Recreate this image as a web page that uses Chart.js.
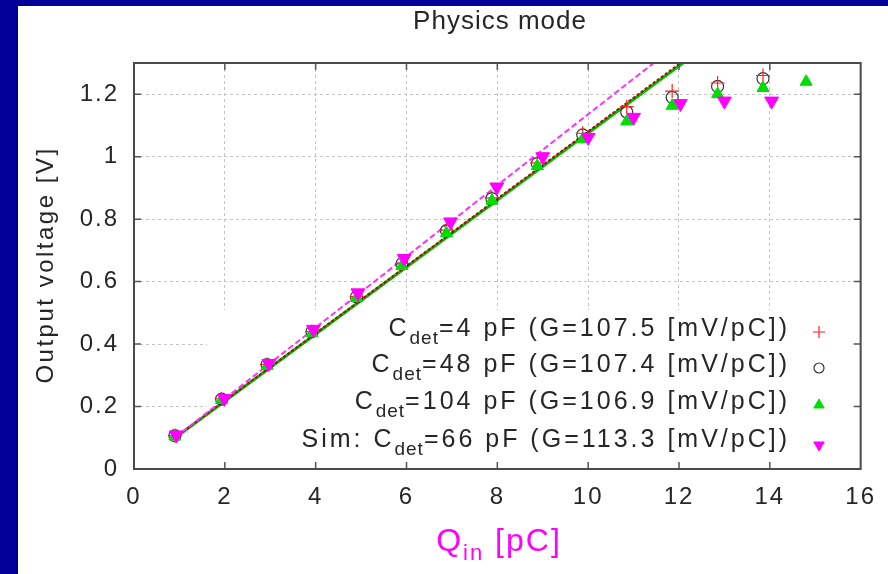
<!DOCTYPE html>
<html>
<head>
<meta charset="utf-8">
<script src="https://cdn.jsdelivr.net/npm/chart.js@4.4.1/dist/chart.umd.min.js"></script>
<style>
    html, body { margin: 0; padding: 0; width: 888px; height: 574px; overflow: hidden; background: #000099; }
    #panel { position: absolute; left: 18px; top: 6px; width: 870px; height: 568px; background: #fff; }
    canvas { display: block; }
</style>
</head>
<body>
<div id="panel"><canvas id="chart" width="870" height="568"></canvas></div>
<script>
(function () {
    'use strict';

    // measured points (Q_in in pC, output in V)
    var qMeas   = [0.9, 1.93, 2.93, 3.92, 4.9, 5.9, 6.88, 7.88, 8.88, 9.88, 10.85, 11.85, 12.85, 13.85, 14.8];
    var vDet4   = [0.107, 0.225, 0.335, 0.44, 0.552, 0.658, 0.765, 0.868, 0.98, 1.075, 1.16, 1.21, 1.236, 1.26];
    var vDet48  = [0.107, 0.224, 0.334, 0.44, 0.551, 0.657, 0.763, 0.866, 0.978, 1.07, 1.143, 1.19, 1.225, 1.25];
    var vDet104 = [0.104, 0.221, 0.33, 0.435, 0.547, 0.65, 0.755, 0.859, 0.97, 1.056, 1.113, 1.163, 1.2, 1.22, 1.24];

    // simulation
    var qSim = [0.93, 1.99, 2.97, 3.95, 4.93, 5.95, 6.97, 7.99, 9.0, 10.0, 11.0, 12.03, 13.0, 14.04];
    var vSim = [0.109, 0.226, 0.338, 0.447, 0.564, 0.674, 0.791, 0.903, 1.0, 1.062, 1.126, 1.17, 1.178, 1.178];

    // fitted gain lines (end points)
    var qFitMeas   = [0.9, 12.2];
    var vFit4      = [0.1, 1.318];
    var vFit48     = [0.1, 1.317];
    var vFit104    = [0.099, 1.312];
    var qFitSim    = [0.9, 11.6];
    var vFitSim    = [0.1, 1.318];

    var xTicks = [0, 2, 4, 6, 8, 10, 12, 14, 16];
    var yTicks = [0, 0.2, 0.4, 0.6, 0.8, 1, 1.2];

    var legendRows = [
        { pre: 'C', post: '=4 pF (G=107.5 [mV/pC])' },
        { pre: 'C', post: '=48 pF (G=107.4 [mV/pC])' },
        { pre: 'C', post: '=104 pF (G=106.9 [mV/pC])' },
        { pre: 'Sim: C', post: '=66 pF (G=113.3 [mV/pC])' }
    ];

    var FONT = '"Liberation Sans", Arial, Helvetica, sans-serif';
    var TEXT = '#262626';

    function pts(xs, ys) {
        var out = [];
        for (var i = 0; i < ys.length; i++) out.push({ x: xs[i], y: ys[i] });
        return out;
    }

    var symbols = [
        { pointStyle: 'cross',    rotation: 0,   radius: 6, borderWidth: 1.2, color: '#ff2020', fill: '#ff2020' },
        { pointStyle: 'circle',   rotation: 0,   radius: 5, borderWidth: 1.2, color: '#333333', fill: 'rgba(0,0,0,0)' },
        { pointStyle: 'triangle', rotation: 0,   radius: 6, borderWidth: 1,   color: '#00dd00', fill: '#00dd00' },
        { pointStyle: 'triangle', rotation: 180, radius: 6, borderWidth: 1,   color: '#ff00ff', fill: '#ff00ff' }
    ];

    function drawParts(ctx, pre, post, xRight, base) {
        ctx.font = '25px ' + FONT;
        ctx.letterSpacing = '3px';
        var w1 = ctx.measureText(pre).width;
        var w3 = ctx.measureText(post).width;
        ctx.font = '19px ' + FONT;
        ctx.letterSpacing = '1px';
        var w2 = ctx.measureText('det').width;
        var x = xRight - (w1 + w2 + w3);
        ctx.textAlign = 'left';
        ctx.textBaseline = 'alphabetic';
        ctx.font = '25px ' + FONT;
        ctx.letterSpacing = '3px';
        ctx.fillText(pre, x, base);
        ctx.font = '19px ' + FONT;
        ctx.letterSpacing = '1px';
        ctx.fillText('det', x + w1, base + 8);
        ctx.font = '25px ' + FONT;
        ctx.letterSpacing = '3px';
        ctx.fillText(post, x + w1 + w2, base);
    }

    var decorPlugin = {
        id: 'decor',
        beforeDraw: function (chart) {
            chart.ctx.letterSpacing = '2px';
        },
        beforeDatasetsDraw: function (chart) {
            var ctx = chart.ctx, a = chart.chartArea;
            ctx.save();
            ctx.fillStyle = '#ffffff';
            ctx.fillRect(189, 304, a.right - 189, a.bottom - 304);
            ctx.restore();
        },
        afterDraw: function (chart) {
            var ctx = chart.ctx, a = chart.chartArea;
            var xs = chart.scales.x, ys = chart.scales.y;
            var i, p;
            ctx.save();

            // inner tick marks (gnuplot style)
            ctx.strokeStyle = '#555';
            ctx.lineWidth = 1.5;
            ctx.beginPath();
            for (i = 1; i < xTicks.length - 1; i++) {
                p = xs.getPixelForValue(xTicks[i]);
                ctx.moveTo(p, a.bottom); ctx.lineTo(p, a.bottom - 7);
                ctx.moveTo(p, a.top); ctx.lineTo(p, a.top + 7);
            }
            for (i = 1; i < yTicks.length; i++) {
                p = ys.getPixelForValue(yTicks[i]);
                ctx.moveTo(a.left, p); ctx.lineTo(a.left + 7, p);
                ctx.moveTo(a.right, p); ctx.lineTo(a.right - 7, p);
            }
            ctx.stroke();

            // frame
            ctx.strokeStyle = '#4a4a4a';
            ctx.lineWidth = 2;
            ctx.strokeRect(a.left, a.top, a.right - a.left, a.bottom - a.top);

            ctx.fillStyle = TEXT;

            // title
            ctx.font = '26px ' + FONT;
            ctx.letterSpacing = '1px';
            ctx.textAlign = 'center';
            ctx.textBaseline = 'alphabetic';
            ctx.fillText('Physics mode', 482, 23);

            // y axis title
            ctx.save();
            ctx.translate(28, 259);
            ctx.rotate(-Math.PI / 2);
            ctx.font = '24px ' + FONT;
            ctx.letterSpacing = '2.5px';
            ctx.textBaseline = 'middle';
            ctx.fillText('Output voltage [V]', 0, 0);
            ctx.restore();

            // x axis title with subscript
            ctx.fillStyle = '#ff00ff';
            ctx.letterSpacing = '2px';
            ctx.font = '32px ' + FONT;
            var wq = ctx.measureText('Q').width;
            var wr = ctx.measureText(' [pC]').width;
            ctx.font = '22px ' + FONT;
            var wi = ctx.measureText('in').width;
            var x0 = 481 - (wq + wi + wr) / 2;
            ctx.textAlign = 'left';
            ctx.font = '32px ' + FONT;
            ctx.fillText('Q', x0, 545);
            ctx.font = '22px ' + FONT;
            ctx.fillText('in', x0 + wq, 554);
            ctx.font = '32px ' + FONT;
            ctx.fillText(' [pC]', x0 + wq + wi, 545);

            // legend
            var bases = [330, 366, 403, 441];
            var marks = [326, 362, 399, 439];
            ctx.fillStyle = TEXT;
            for (i = 0; i < legendRows.length; i++) {
                drawParts(ctx, legendRows[i].pre, legendRows[i].post, 772, bases[i]);
                var s = symbols[i];
                ctx.strokeStyle = s.color;
                ctx.fillStyle = s.fill;
                ctx.lineWidth = s.borderWidth;
                Chart.helpers.drawPoint(ctx, s, 801, marks[i]);
                ctx.fillStyle = TEXT;
            }
            ctx.restore();
        }
    };

    var ctx = document.getElementById('chart').getContext('2d');
    window.physicsChart = new Chart(ctx, {
        type: 'scatter',
        data: {
            datasets: [
                { label: 'fit 104', data: pts(qFitMeas, vFit104), showLine: true, pointRadius: 0,
                  borderColor: '#00c000', borderWidth: 3, order: 9 },
                { label: 'fit 48', data: pts(qFitMeas, vFit48), showLine: true, pointRadius: 0,
                  borderColor: '#222222', borderWidth: 1.5, borderDash: [2, 3], order: 8 },
                { label: 'fit 4', data: pts(qFitMeas, vFit4), showLine: true, pointRadius: 0,
                  borderColor: '#b01010', borderWidth: 2, borderDash: [3, 2], order: 7 },
                { label: 'fit sim', data: pts(qFitSim, vFitSim), showLine: true, pointRadius: 0,
                  borderColor: '#ff30ff', borderWidth: 2, borderDash: [6, 3], order: 6 },
                { label: 'Cdet=48', data: pts(qMeas, vDet48), pointStyle: 'circle', pointRadius: 6,
                  borderColor: '#333333', backgroundColor: 'rgba(0,0,0,0)', pointBorderWidth: 1.2, order: 5 },
                { label: 'Cdet=4', data: pts(qMeas, vDet4), pointStyle: 'cross', pointRadius: 7,
                  borderColor: '#ff2020', backgroundColor: '#ff2020', pointBorderWidth: 1.2, order: 4 },
                { label: 'Cdet=104', data: pts(qMeas, vDet104), pointStyle: 'triangle', pointRadius: 7,
                  borderColor: '#00dd00', backgroundColor: '#00dd00', pointBorderWidth: 1, order: 3 },
                { label: 'Sim', data: pts(qSim, vSim), pointStyle: 'triangle', rotation: 180, pointRadius: 8,
                  borderColor: '#ff00ff', backgroundColor: '#ff00ff', pointBorderWidth: 1, order: 1 }
            ]
        },
        options: {
            responsive: false,
            animation: false,
            events: [],
            layout: { padding: { top: 57, right: 20, left: 0, bottom: 0 } },
            plugins: {
                legend: { display: false },
                title: { display: false },
                tooltip: { enabled: false }
            },
            scales: {
                x: {
                    type: 'linear',
                    min: 0,
                    max: 16,
                    afterBuildTicks: function (s) { s.ticks = xTicks.map(function (v) { return { value: v }; }); },
                    afterFit: function (s) { s.height = 105; },
                    ticks: { font: { size: 24, family: FONT }, color: TEXT, padding: 14, maxRotation: 0, autoSkip: false },
                    grid: { color: '#c4c4c4', lineWidth: 1, drawTicks: false },
                    border: { display: false, dash: [3, 3] }
                },
                y: {
                    type: 'linear',
                    min: 0,
                    max: 1.3,
                    afterBuildTicks: function (s) { s.ticks = yTicks.map(function (v) { return { value: v }; }); },
                    afterFit: function (s) { s.width = 116; },
                    ticks: {
                        font: { size: 24, family: FONT }, color: TEXT, padding: 15, autoSkip: false,
                        callback: function (v) { return String(Math.round(v * 10) / 10); }
                    },
                    grid: { color: '#c4c4c4', lineWidth: 1, drawTicks: false },
                    border: { display: false, dash: [3, 3] }
                }
            }
        },
        plugins: [decorPlugin]
    });
})();
</script>
</body>
</html>
